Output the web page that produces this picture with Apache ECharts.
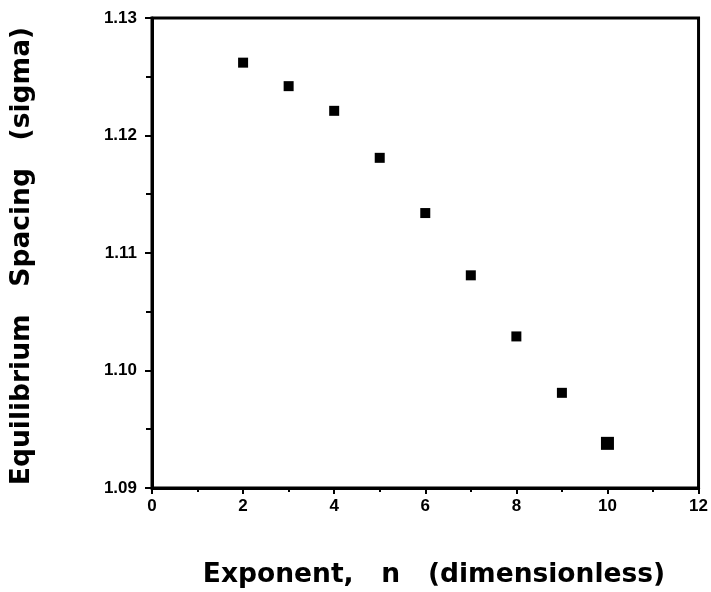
<!DOCTYPE html>
<html>
<head>
<meta charset="utf-8">
<script src="https://cdn.jsdelivr.net/npm/echarts@6/dist/echarts.min.js"></script>
<style>
  html, body { margin: 0; padding: 0; background: #fff; }
  #chart { width: 711px; height: 592px; }
</style>
</head>
<body>
<div id="chart"></div>
<script>
// exponent n vs equilibrium spacing (sigma)
var exponents = [2, 3, 4, 5, 6, 7, 8, 9, 10];
var spacing = [1.1262, 1.1242, 1.1221, 1.1181, 1.1134, 1.1081, 1.1029, 1.0981, 1.0938];
var xTitle = 'Exponent,   n   (dimensionless)';
var yTitle = 'Equilibrium   Spacing   (sigma)';

var font = '"Liberation Sans", Arial, Helvetica, sans-serif';
var titleFont = 'bold 26.5px "DejaVu Sans", sans-serif';

var points = exponents.map(function (n, i) {
  var p = { value: [n, spacing[i]] };
  if (n === 10) {
    p.symbolSize = 13;
  }
  return p;
});

var chart = echarts.init(document.getElementById('chart'));
var option = {
  animation: false,
  backgroundColor: '#fff',
  grid: {
    left: 152,
    right: 12,
    top: 18,
    bottom: 104,
    show: true,
    borderColor: '#000',
    borderWidth: 3,
    backgroundColor: 'transparent'
  },
  xAxis: {
    type: 'value',
    min: 0,
    max: 12,
    interval: 2,
    axisLine: { lineStyle: { color: '#000', width: 3 } },
    axisTick: { length: 6, lineStyle: { color: '#000', width: 2 } },
    minorTick: { show: true, splitNumber: 2, length: 4, lineStyle: { color: '#000', width: 2 } },
    splitLine: { show: false },
    axisLabel: { color: '#000', fontFamily: font, fontWeight: 'bold', fontSize: 17, margin: 10 }
  },
  yAxis: {
    type: 'value',
    min: 1.09,
    max: 1.13,
    interval: 0.01,
    axisLine: { lineStyle: { color: '#000', width: 3 } },
    axisTick: { length: 7, lineStyle: { color: '#000', width: 2 } },
    minorTick: { show: true, splitNumber: 2, length: 6, lineStyle: { color: '#000', width: 2 } },
    splitLine: { show: false },
    axisLabel: {
      color: '#000', fontFamily: font, fontWeight: 'bold', fontSize: 17, margin: 15,
      formatter: function (v) { return v.toFixed(2); }
    }
  },
  graphic: [
    {
      type: 'text',
      x: 434,
      y: 575,
      style: {
        text: xTitle, fill: '#000', font: titleFont,
        align: 'center', verticalAlign: 'middle'
      }
    },
    {
      type: 'text',
      x: 22,
      y: 256,
      rotation: Math.PI / 2,
      style: {
        text: yTitle, fill: '#000', font: titleFont,
        align: 'center', verticalAlign: 'middle'
      }
    }
  ],
  series: [{
    type: 'scatter',
    symbol: 'rect',
    symbolSize: 10,
    itemStyle: { color: '#000', opacity: 1 },
    data: points
  }]
};
chart.setOption(option);
</script>
</body>
</html>
